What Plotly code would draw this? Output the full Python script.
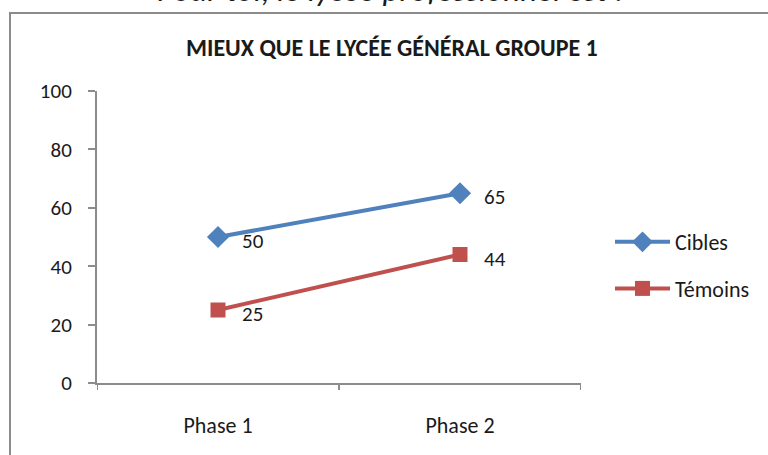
import plotly.graph_objects as go

categories = ["Phase 1", "Phase 2"]
cibles = [50, 65]
temoins = [25, 44]
y_ticks = [0, 20, 40, 60, 80, 100]

FONT = "Carlito, Lato, 'Open Sans', sans-serif"
TXT = "#1a1a1a"
AX = "#8c8c8c"

# plot-area pixel geometry
L, R, T, B = 97, 581, 91, 383
W, H = 768, 455
def px(x): return (x - L) / (R - L)
def py(y): return (B - y) / (B - T)

series = [
    ("Cibles", cibles, "#4F81BD", "diamond", 17),
    ("Témoins", temoins, "#C0504D", "square", 15),
]

fig = go.Figure()
for i, (name, vals, col, sym, msz) in enumerate(series):
    fig.add_trace(go.Scatter(
        x=categories, y=vals, name=name, mode="lines+markers",
        line=dict(color=col, width=4),
        marker=dict(symbol=sym, size=msz, color=col),
        legendgroup=f"g{i}", cliponaxis=False))
    for c, v in zip(categories, vals):
        fig.add_annotation(x=c, y=v, text=str(v), xref="x", yref="y",
                           xanchor="left", yanchor="middle", xshift=22, yshift=-4,
                           showarrow=False, font=dict(size=21, family=FONT, color=TXT))

fig.update_layout(
    width=W, height=H,
    margin=dict(l=L, r=W - R, t=T, b=H - B),
    paper_bgcolor="white", plot_bgcolor="white",
    font=dict(family=FONT, size=21, color=TXT),
    showlegend=True,
    legend=dict(x=px(610), y=py(221), xanchor="left", yanchor="top",
                font=dict(size=22, family=FONT, color=TXT),
                itemwidth=55,
                tracegroupgap=15, bgcolor="rgba(0,0,0,0)"),
    xaxis=dict(type="category", range=[-0.5, 1.5], showgrid=False,
               showline=True, linecolor=AX, linewidth=2,
               ticks="", tickfont=dict(size=22), ticklabelstandoff=22,
               zeroline=False),
    yaxis=dict(range=[0, 100], tickvals=y_ticks, showgrid=False,
               showline=True, linecolor=AX, linewidth=2,
               ticks="outside", ticklen=7, tickcolor=AX, tickwidth=2,
               tickfont=dict(size=21), ticklabelstandoff=12, zeroline=False),
)

# x-axis tick marks at category boundaries
for xv in [-0.5, 0.5, 1.5]:
    fig.add_shape(type="line", xref="x", yref="paper", x0=xv, x1=xv, y0=0, y1=-7 / (B - T),
                  line=dict(color=AX, width=2))

# outer chart border
fig.add_shape(type="rect", xref="paper", yref="paper",
              x0=px(10), x1=px(800), y0=py(13), y1=py(470),
              line=dict(color=AX, width=2), fillcolor="rgba(0,0,0,0)")

fig.add_annotation(text="<b>MIEUX QUE LE LYCÉE GÉNÉRAL GROUPE 1</b>",
                   xref="paper", yref="paper", x=px(392), y=py(47),
                   xanchor="center", yanchor="middle", showarrow=False,
                   font=dict(size=24, family=FONT, color=TXT))

fig.add_annotation(text="<i>Pour toi, le lycée professionnel est :</i>",
                   xref="paper", yref="paper", x=px(390), y=py(-10.5),
                   xanchor="center", yanchor="middle", showarrow=False,
                   font=dict(size=33, family=FONT, color=TXT))

fig.write_html("out.html", config={"displayModeBar": False},
               post_script="document.body.style.margin='0';document.body.style.overflow='hidden';")
